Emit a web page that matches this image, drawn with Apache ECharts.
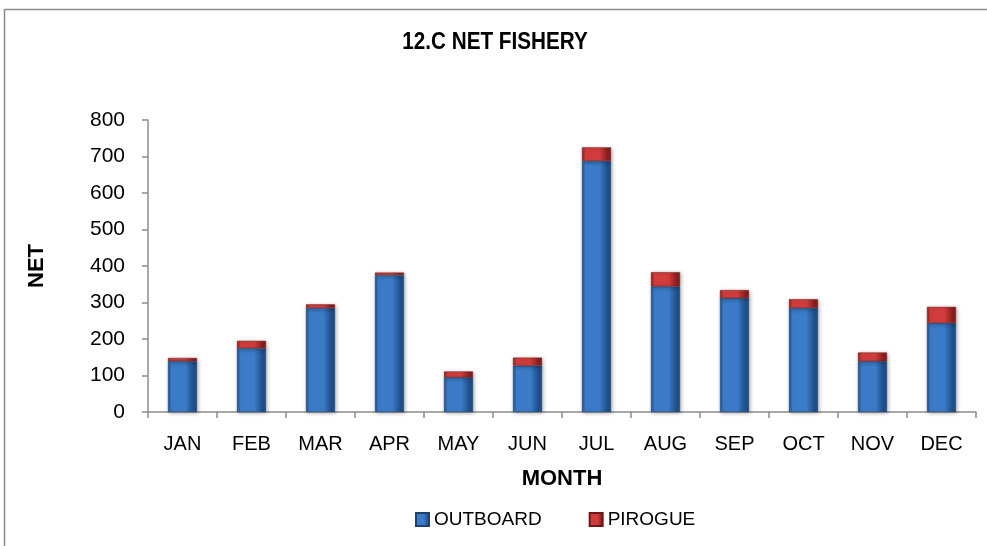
<!DOCTYPE html>
<html>
<head>
<meta charset="utf-8">
<script src="https://cdn.jsdelivr.net/npm/echarts@6/dist/echarts.min.js"></script>
<style>
  html, body { margin: 0; padding: 0; background: #fff; }
  #chart { width: 987px; height: 546px; }
</style>
</head>
<body>
<div id="chart"></div>
<script>
// Monthly net fishery counts by craft type
const months = ['JAN', 'FEB', 'MAR', 'APR', 'MAY', 'JUN', 'JUL', 'AUG', 'SEP', 'OCT', 'NOV', 'DEC'];
const outboard = [139, 175, 285, 375, 95, 127, 688, 344, 312, 285, 139, 244];
const pirogue = [9, 20, 10, 7, 16, 22, 37, 39, 22, 24, 24, 44];
const yTicks = [0, 100, 200, 300, 400, 500, 600, 700, 800];

const FONT = '"Liberation Sans", Arial, sans-serif';

function barGradient(edge, mid) {
  return new echarts.graphic.LinearGradient(0, 0, 1, 0, [
    { offset: 0, color: edge },
    { offset: 0.12, color: mid },
    { offset: 0.6, color: mid },
    { offset: 0.88, color: edge },
    { offset: 1, color: edge }
  ]);
}

const chart = echarts.init(document.getElementById('chart'), null, { renderer: 'canvas' });

chart.setOption({
  backgroundColor: '#ffffff',
  animation: false,
  graphic: [
    {
      type: 'rect',
      shape: { x: 4.5, y: 9.5, width: 990, height: 545 },
      style: { fill: 'none', stroke: '#8c8c8c', lineWidth: 1.5 },
      silent: true
    },
    {
      // chart title, slightly condensed
      type: 'text',
      x: 495,
      y: 43,
      scaleX: 0.9,
      style: {
        text: '12.C NET FISHERY',
        fontFamily: FONT,
        fontSize: 23,
        fontWeight: 'bold',
        fill: '#000',
        align: 'center',
        verticalAlign: 'middle'
      },
      silent: true
    }
  ],
  legend: {
    top: 505,
    left: 410,
    itemGap: 47,
    itemWidth: 13,
    itemHeight: 13,
    icon: 'rect',
    textStyle: { fontFamily: FONT, fontSize: 19, color: '#000' },
    data: ['OUTBOARD', 'PIROGUE']
  },
  grid: { left: 148, right: 11, top: 120, bottom: 134, containLabel: false },
  xAxis: {
    type: 'category',
    data: months,
    name: 'MONTH',
    nameLocation: 'middle',
    nameGap: 56,
    nameTextStyle: { fontFamily: FONT, fontSize: 22, fontWeight: 'bold', color: '#000' },
    axisLine: { lineStyle: { color: '#8c8c8c', width: 1.5 } },
    axisTick: { show: true, length: 6, lineStyle: { color: '#8c8c8c', width: 1.5 } },
    axisLabel: { fontFamily: FONT, fontSize: 20, color: '#000', margin: 22 }
  },
  yAxis: {
    type: 'value',
    min: yTicks[0],
    max: yTicks[yTicks.length - 1],
    interval: 100,
    name: 'NET',
    nameLocation: 'middle',
    nameGap: 100,
    nameRotate: 90,
    nameTextStyle: { fontFamily: FONT, fontSize: 22, fontWeight: 'bold', color: '#000' },
    axisLine: { show: true, lineStyle: { color: '#8c8c8c', width: 1.5 } },
    axisTick: { show: true, length: 6, lineStyle: { color: '#8c8c8c', width: 1.5 } },
    splitLine: { show: false },
    axisLabel: { fontFamily: FONT, fontSize: 21, color: '#000', margin: 23 }
  },
  series: [
    {
      name: 'OUTBOARD',
      type: 'bar',
      stack: 'total',
      barWidth: 29,
      data: outboard,
      itemStyle: {
        color: barGradient('#1f4f8a', '#3b7bc8'),
        borderColor: '#1c426f',
        borderWidth: 0.5,
        shadowColor: 'rgba(0,0,0,0.3)',
        shadowBlur: 4,
        shadowOffsetX: 1,
        shadowOffsetY: 1
      }
    },
    {
      name: 'PIROGUE',
      type: 'bar',
      stack: 'total',
      barWidth: 29,
      data: pirogue,
      itemStyle: {
        color: barGradient('#8a1e1e', '#d23c3c'),
        borderColor: '#701818',
        borderWidth: 0.5,
        shadowColor: 'rgba(0,0,0,0.3)',
        shadowBlur: 4,
        shadowOffsetX: 1,
        shadowOffsetY: 1
      }
    }
  ]
});
</script>
</body>
</html>
